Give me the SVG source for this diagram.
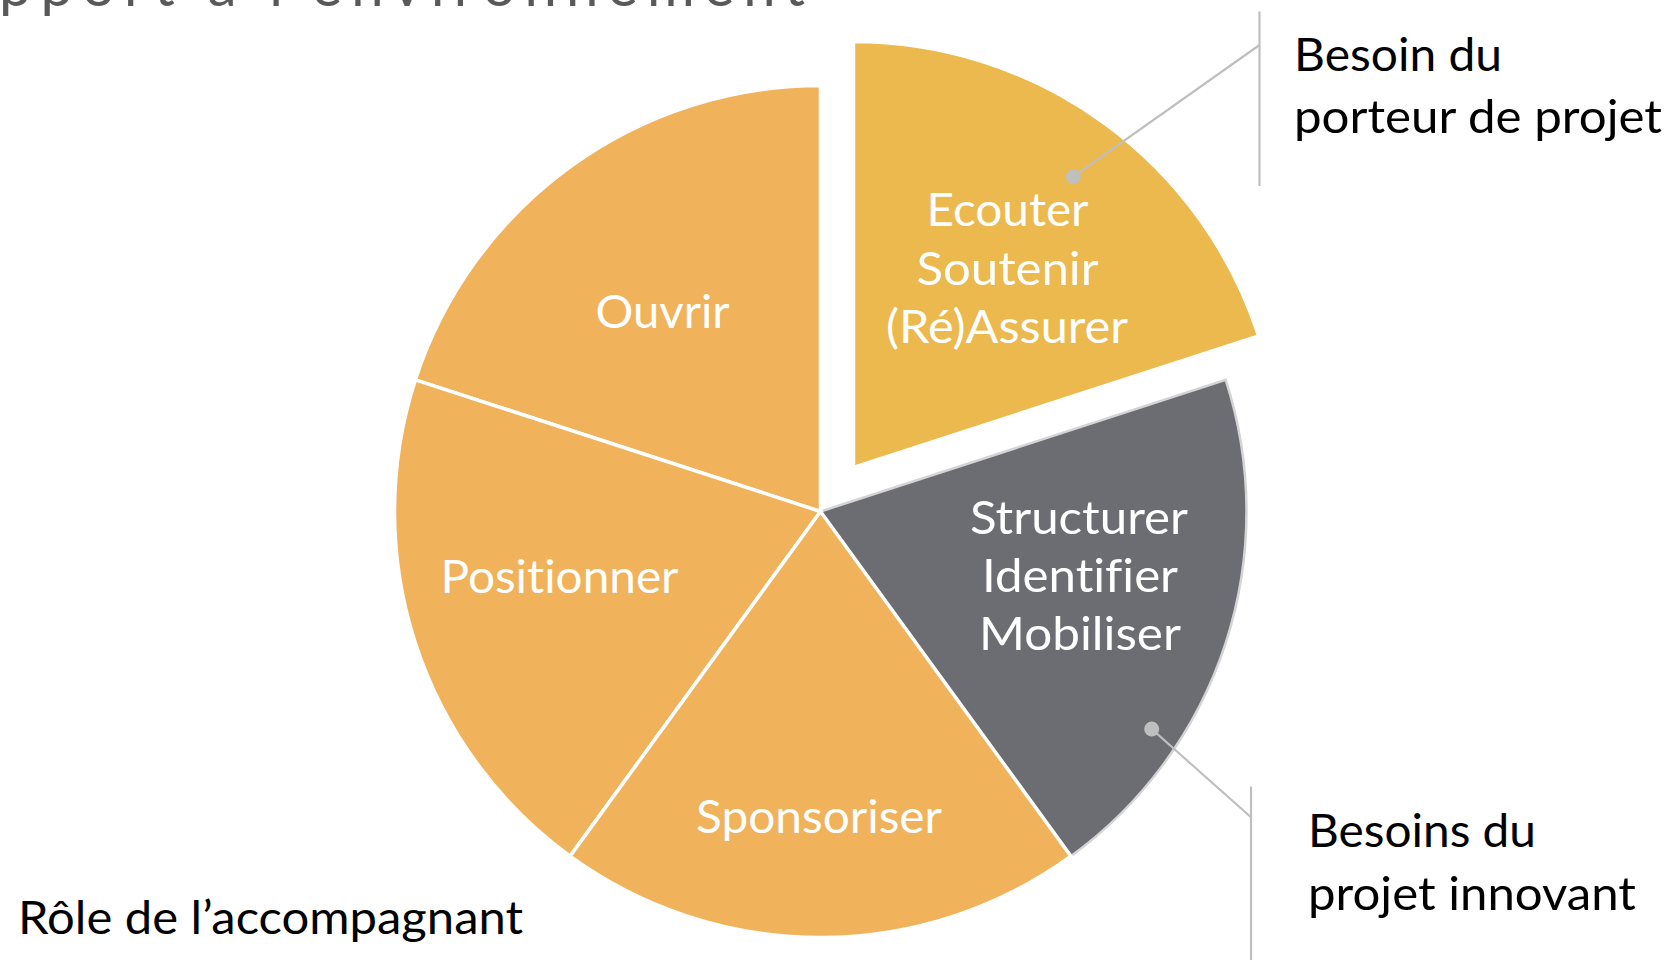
<svg xmlns="http://www.w3.org/2000/svg" width="1671" height="960" viewBox="0 0 1671 960">
  <style>
    text { font-variant-ligatures: none; font-feature-settings: "liga" 0, "dlig" 0, "clig" 0; }
    .slice { stroke: #FFFFFF; stroke-width: 3.5; stroke-linejoin: miter; }
    .orange { fill: #F0B25B; }
    .yellow { fill: #EBB94E; }
    .gray { fill: #6C6D72; stroke: #D4D4D6; stroke-width: 2.5; }
    .in { font-family: "Lato", "Open Sans", sans-serif; font-size: 47px; fill: #FFFFFF; text-anchor: middle; }
    .out { font-family: "Lato", "Open Sans", sans-serif; font-size: 47px; fill: #000000; }
    .title { font-family: "Lato", "Open Sans", sans-serif; font-size: 58px; fill: #595959; }
    .lead { stroke: #BFBFBF; stroke-width: 2.2; fill: none; }
    .dot { fill: #BFBFBF; }
  </style>
  <rect x="0" y="0" width="1671" height="960" fill="#FFFFFF"/>
  <text id="title" class="title" x="-1" y="6" textLength="806" lengthAdjust="spacing">pport à l’environnement</text>

  <g id="slice-structurer">
    <path class="gray" d="M820.5,511.5 L1225.65,379.86 A426,426 0 0 1 1070.9,856.14 Z"/>
    <text class="in" x="1079" y="534" textLength="218" lengthAdjust="spacingAndGlyphs">Structurer</text>
    <text class="in" x="1080" y="592" textLength="196" lengthAdjust="spacingAndGlyphs">Identifier</text>
    <text class="in" x="1080" y="650" textLength="202" lengthAdjust="spacingAndGlyphs">Mobiliser</text>
  </g>
  <g id="slice-ouvrir">
    <path class="slice orange" d="M820.5,511.5 L415.35,379.86 A426,426 0 0 1 820.5,85.5 Z"/>
    <text class="in" x="662.5" y="328" textLength="134" lengthAdjust="spacingAndGlyphs">Ouvrir</text>
  </g>
  <g id="slice-positionner">
    <path class="slice orange" d="M820.5,511.5 L570.1,856.14 A426,426 0 0 1 415.35,379.86 Z"/>
    <text class="in" x="559.5" y="593" textLength="238" lengthAdjust="spacingAndGlyphs">Positionner</text>
  </g>
  <g id="slice-sponsoriser">
    <path class="slice orange" d="M820.5,511.5 L1070.9,856.14 A426,426 0 0 1 570.1,856.14 Z"/>
    <text class="in" x="819" y="833" textLength="246" lengthAdjust="spacingAndGlyphs">Sponsoriser</text>
  </g>
  <g id="slice-ecouter">
    <path class="slice yellow" d="M853.5,467.5 L853.5,41.5 A426,426 0 0 1 1258.65,335.86 Z"/>
    <text class="in" x="1007.5" y="226" textLength="162" lengthAdjust="spacingAndGlyphs">Ecouter</text>
    <text class="in" x="1007.5" y="285" textLength="182" lengthAdjust="spacingAndGlyphs">Soutenir</text>
    <text class="in" x="1007" y="343" textLength="242" lengthAdjust="spacingAndGlyphs">(Ré)Assurer</text>
  </g>

  <g id="connectors">
    <line class="lead" x1="1259.5" y1="11.5" x2="1259.5" y2="186"/>
    <line class="lead" x1="1259.5" y1="45" x2="1073.3" y2="176.7"/>
    <circle class="dot" cx="1073.3" cy="176.7" r="7.5"/>
    <line class="lead" x1="1251" y1="786.5" x2="1251" y2="960"/>
    <line class="lead" x1="1251" y1="817.3" x2="1151.7" y2="729"/>
    <circle class="dot" cx="1151.7" cy="729" r="7.5"/>
  </g>

  <g id="label-porteur">
    <text class="out" x="1294" y="71" textLength="208" lengthAdjust="spacingAndGlyphs">Besoin du</text>
    <text class="out" x="1294" y="133" textLength="368" lengthAdjust="spacingAndGlyphs">porteur de projet</text>
  </g>
  <g id="label-projet">
    <text class="out" x="1308" y="847" textLength="228" lengthAdjust="spacingAndGlyphs">Besoins du</text>
    <text class="out" x="1308" y="910" textLength="328" lengthAdjust="spacingAndGlyphs">projet innovant</text>
  </g>
  <g id="label-role">
    <text class="out" x="18" y="934" textLength="505" lengthAdjust="spacingAndGlyphs">Rôle de l’accompagnant</text>
  </g>
</svg>
